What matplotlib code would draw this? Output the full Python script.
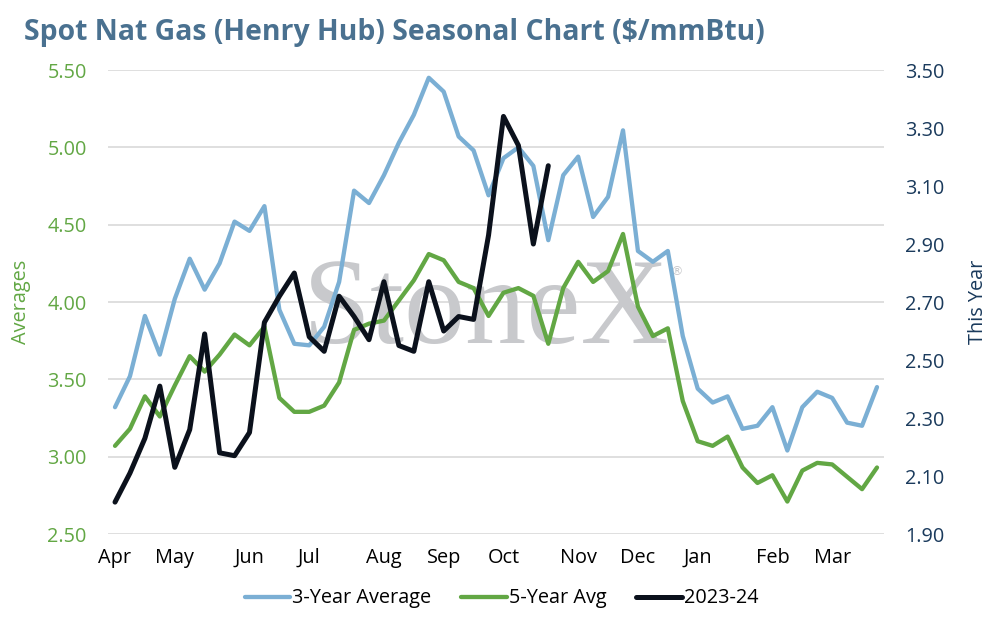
import numpy as np
import matplotlib.pyplot as plt


# Data (weekly, Apr -> Mar)
avg3 = [3.32, 3.52, 3.91, 3.66, 4.02, 4.28, 4.08, 4.25, 4.52, 4.46,
        4.62, 3.95, 3.73, 3.72, 3.84, 4.13, 4.72, 4.64, 4.82, 5.03,
        5.21, 5.45, 5.36, 5.07, 4.98, 4.69, 4.93, 5.00, 4.88, 4.40,
        4.82, 4.94, 4.55, 4.68, 5.11, 4.33, 4.26, 4.33, 3.78, 3.44,
        3.35, 3.39, 3.18, 3.20, 3.32, 3.04, 3.32, 3.42, 3.38, 3.22,
        3.20, 3.45]
avg5 = [3.07, 3.18, 3.39, 3.26, 3.46, 3.65, 3.55, 3.66, 3.79, 3.72,
        3.84, 3.38, 3.29, 3.29, 3.33, 3.48, 3.82, 3.86, 3.88, 4.01,
        4.14, 4.31, 4.27, 4.13, 4.09, 3.91, 4.06, 4.09, 4.04, 3.73,
        4.09, 4.26, 4.13, 4.20, 4.44, 3.97, 3.78, 3.83, 3.36, 3.10,
        3.07, 3.13, 2.93, 2.83, 2.88, 2.71, 2.91, 2.96, 2.95, 2.87,
        2.79, 2.93]
this_year = [2.01, 2.11, 2.23, 2.41, 2.13, 2.26, 2.59, 2.18, 2.17, 2.25,
             2.63, 2.72, 2.80, 2.58, 2.53, 2.72, 2.65, 2.57, 2.77, 2.55,
             2.53, 2.77, 2.60, 2.65, 2.64, 2.93, 3.34, 3.24, 2.90, 3.17]

month_labels = ['Apr', 'May', 'Jun', 'Jul', 'Aug', 'Sep', 'Oct', 'Nov',
                'Dec', 'Jan', 'Feb', 'Mar']
month_pos = [0, 4, 9, 13, 18, 22, 26, 31, 35, 39, 44, 48]

# Colors
c_blue = '#7bafd4'
c_green = '#62a744'
c_black = '#0b111c'
c_title = '#4a7190'
c_right = '#1a3a5c'

plt.rcParams['font.family'] = ['Open Sans', 'DejaVu Sans']
fs = 14.3

fig = plt.figure(figsize=(9.93, 6.17), dpi=100)
ax = fig.add_axes([0.1083, 0.1345, 0.7824, 0.752])
ax2 = ax.twinx()

x3 = np.arange(len(avg3))
x1 = np.arange(len(this_year))

l1, = ax.plot(x3, avg3, color=c_blue, lw=3.1, solid_joinstyle='round',
              solid_capstyle='round', label='3-Year Average', zorder=3)
l2, = ax.plot(x3, avg5, color=c_green, lw=3.1, solid_joinstyle='round',
              solid_capstyle='round', label='5-Year Avg', zorder=3)
l3, = ax2.plot(x1, this_year, color=c_black, lw=3.6, solid_joinstyle='round',
               solid_capstyle='round', label='2023-24', zorder=3)

ax.set_xlim(-0.5, len(avg3) - 0.5)
ax.set_ylim(2.5, 5.5)
ax2.set_ylim(1.9, 3.5)
ax.set_yticks(np.arange(2.5, 5.51, 0.5))
ax2.set_yticks(np.arange(1.9, 3.51, 0.2))
ax.yaxis.set_major_formatter(plt.FormatStrFormatter('%.2f'))
ax2.yaxis.set_major_formatter(plt.FormatStrFormatter('%.2f'))
ax.set_xticks(month_pos)
ax.set_xticklabels(month_labels)

ax.grid(axis='y', color='#d9d9d9', lw=1.2)
ax.set_axisbelow(True)
for a in (ax, ax2):
    for s in a.spines.values():
        s.set_visible(False)
    a.tick_params(length=0, labelsize=fs)
ax.tick_params(axis='y', colors=c_green, pad=15)
ax.tick_params(axis='x', colors='black', pad=10)
ax2.tick_params(axis='y', colors=c_right, pad=15)

ax.set_ylabel('Averages', color=c_green, fontsize=fs)
ax.yaxis.set_label_coords(-0.099, 0.5)
ax2.set_ylabel('This Year', color=c_right, fontsize=fs)
ax2.yaxis.set_label_coords(1.107, 0.5)

# Watermark
ax.text(0.487, 0.475, 'StoneX', transform=ax.transAxes, family='Liberation Serif',
        fontsize=88, color='#c8c9cc', ha='center', va='center', zorder=1)
ax.text(0.732, 0.565, '\u00ae', transform=ax.transAxes, family='DejaVu Sans',
        fontsize=9, color='#c8c9cc', ha='center', va='center', zorder=1)

fig.text(0.024, 0.948, 'Spot Nat Gas (Henry Hub) Seasonal Chart ($/mmBtu)',
         fontsize=20.4, fontweight='bold', color=c_title, ha='left', va='center')

leg = fig.legend(handles=[l1, l2, l3], loc='center', bbox_to_anchor=(0.505, 0.03),
                 ncol=3, frameon=False, fontsize=fs, handlelength=2.3,
                 handletextpad=0.1, columnspacing=1.5)

plt.savefig('out.png', dpi=100)
